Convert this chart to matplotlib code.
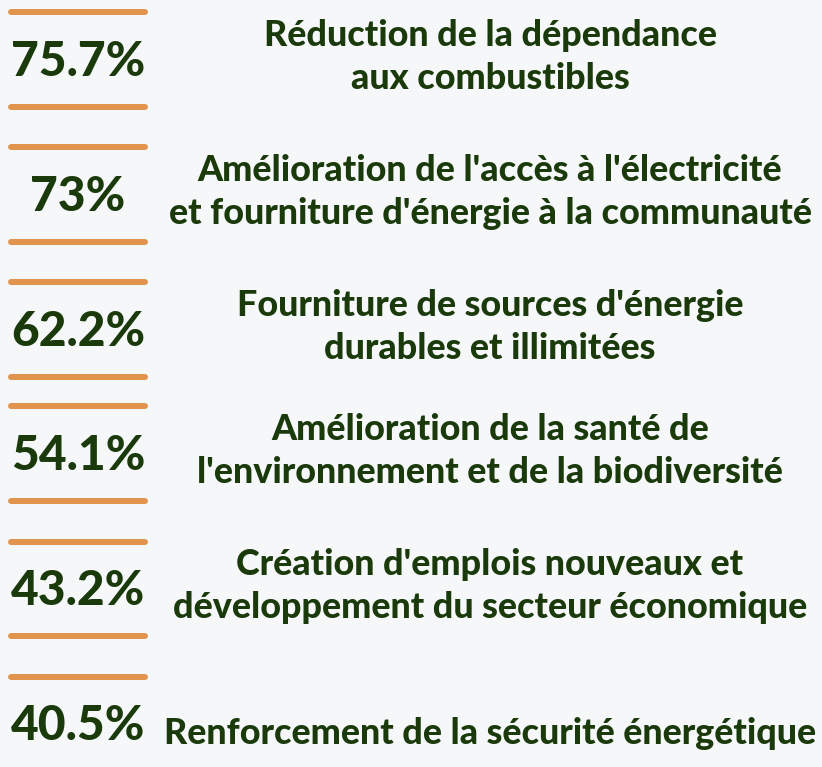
import matplotlib
matplotlib.use("Agg")
import matplotlib.pyplot as plt

# ---- data ----
values = [75.7, 73, 62.2, 54.1, 43.2, 40.5]
labels = [
    "Réduction de la dépendance\naux combustibles",
    "Amélioration de l'accès à l'électricité\net fourniture d'énergie à la communauté",
    "Fourniture de sources d'énergie\ndurables et illimitées",
    "Amélioration de la santé de\nl'environnement et de la biodiversité",
    "Création d'emplois nouveaux et\ndéveloppement du secteur économique",
    "Renforcement de la sécurité énergétique",
]

# ---- layout (pixels) ----
W, H = 822, 767
row_tops = [12.3, 147, 282.3, 406.3, 541.7, 676.7]
row_h = 94.5
bg = "#F6F7F9"
orange = "#E1944D"
green = "#1A3A0B"
font = "Lato"

fig = plt.figure(figsize=(W / 100, H / 100), dpi=100, facecolor=bg)
ax = fig.add_axes([0, 0, 1, 1])
ax.set_xlim(0, W)
ax.set_ylim(H, 0)
ax.axis("off")
ax.set_facecolor(bg)

lw = 6 * 72 / 100
for i, (v, lab) in enumerate(zip(values, labels)):
    top = row_tops[i]
    center = top + row_h / 2
    ax.plot([11, 145], [top, top], color=orange, lw=lw, solid_capstyle="round")
    if i < len(values) - 1:
        ax.plot([11, 145], [top + row_h, top + row_h], color=orange, lw=lw,
                solid_capstyle="round")
    ax.text(78, center + 16.5, f"{v:g}%", ha="center", va="baseline",
            fontsize=34.5, fontweight=900, color=green, family=font)
    lines = lab.split("\n")
    if len(lines) == 1:
        bases = [center + 20]
    else:
        bases = [center - 13.5, center + 29.5]
    for ln, b in zip(lines, bases):
        ax.text(490, b, ln, ha="center", va="baseline", fontsize=25.8,
                fontweight=900, color=green, family=font)

fig.savefig("out.png", dpi=100, facecolor=bg)
